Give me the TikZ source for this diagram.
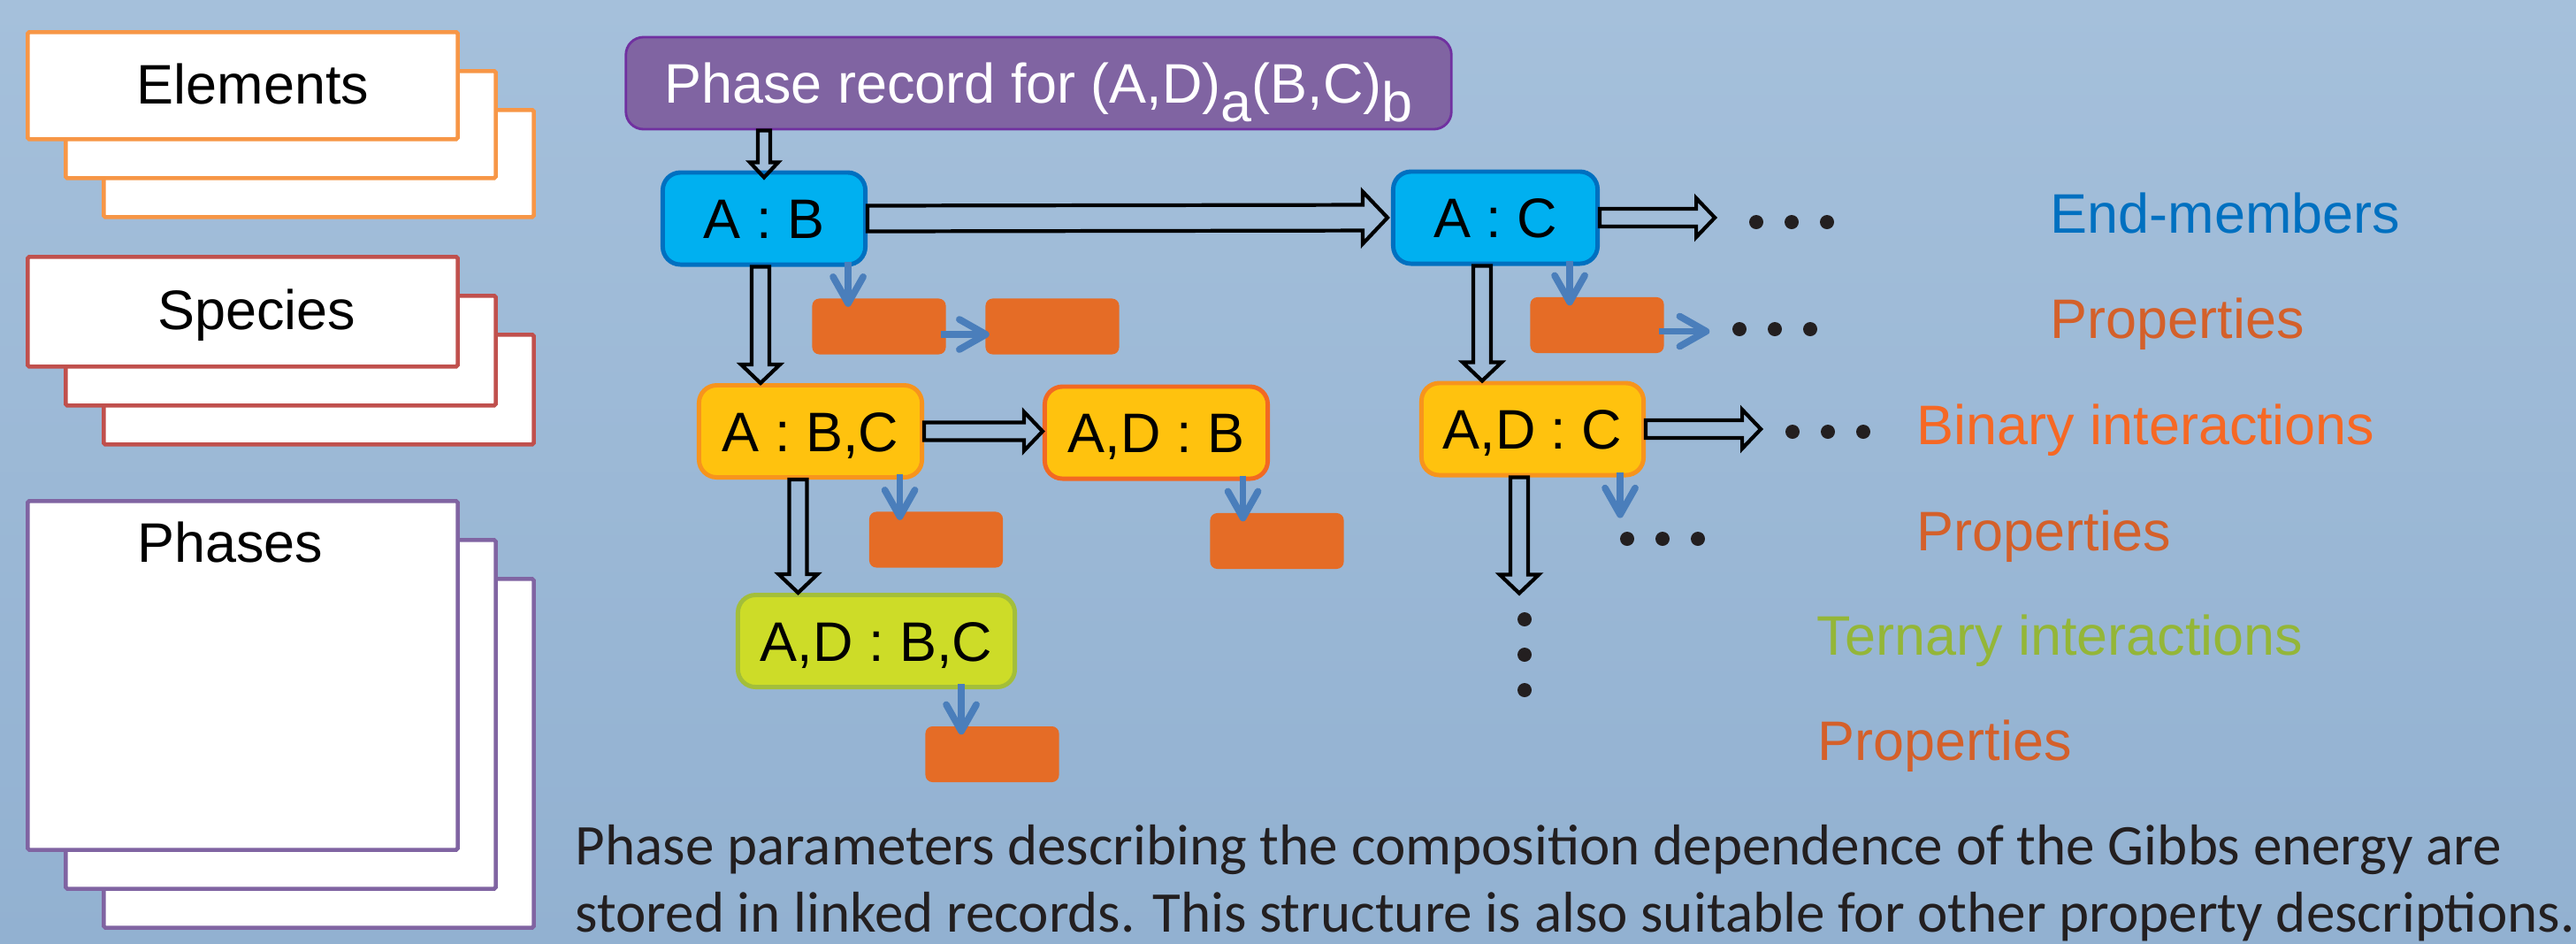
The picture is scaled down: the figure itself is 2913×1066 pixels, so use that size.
\documentclass[tikz,border=0pt]{standalone}
\usepackage{fontspec}
\setmainfont{Liberation Sans}
\newfontfamily\notefont{Carlito}
\usetikzlibrary{calc,arrows.meta}

\definecolor{bgtop}{RGB}{165,192,219}
\definecolor{bgbot}{RGB}{146,177,209}
\definecolor{elemcol}{RGB}{247,150,70}
\definecolor{speccol}{RGB}{192,80,77}
\definecolor{phasecol}{RGB}{128,100,162}
\definecolor{recfill}{RGB}{128,100,162}
\definecolor{recdraw}{RGB}{112,48,160}
\definecolor{endfill}{RGB}{0,176,240}
\definecolor{enddraw}{RGB}{0,112,192}
\definecolor{binfill}{RGB}{255,194,14}
\definecolor{bindraw}{RGB}{247,148,29}
\definecolor{bindrawb}{RGB}{242,105,34}
\definecolor{terfill}{RGB}{205,220,40}
\definecolor{terdraw}{RGB}{163,190,58}
\definecolor{propfill}{RGB}{229,108,38}
\definecolor{linkcol}{RGB}{74,126,187}
\definecolor{proptext}{RGB}{212,96,42}
\definecolor{bintext}{RGB}{246,104,36}
\definecolor{tertext}{RGB}{148,182,56}
\definecolor{dotcol}{RGB}{35,31,32}

\tikzset{
  card/.style={rectangle, fill=white, line width=1.3pt, rounded corners=0.5pt,
    anchor=north west, inner sep=0pt, minimum width=4.86cm},
  cardtext/.style={anchor=base, inner sep=0pt, font=\fontsize{17.9pt}{21pt}\selectfont},
  recbox/.style={rectangle, rounded corners=0.2cm, line width=1.4pt, inner sep=0pt,
    text height=12.8pt, text depth=0pt, minimum height=1.04cm,
    font=\fontsize{17.9pt}{21pt}\selectfont},
  phaserec/.style={recbox, fill=recfill, draw=recdraw, line width=0.8pt, text=white,
    minimum width=9.33cm},
  endmember/.style={recbox, fill=endfill, draw=enddraw},
  binary/.style={recbox, fill=binfill, draw=bindraw},
  ternary/.style={recbox, fill=terfill, draw=terdraw},
  propbox/.style={rectangle, fill=propfill, rounded corners=0.08cm,
    minimum width=1.51cm, minimum height=0.63cm, inner sep=0pt},
  blockarrow/.style n args={3}{draw=black, line width=1.2pt, line join=miter,
    to path={($(\tikztostart)!#1!90:(\tikztotarget)$)
      -- ($($(\tikztotarget)!#3!(\tikztostart)$)!#1!90:(\tikztotarget)$)
      -- ($($(\tikztotarget)!#3!(\tikztostart)$)!#2!90:(\tikztotarget)$)
      -- (\tikztotarget)
      -- ($($(\tikztotarget)!#3!(\tikztostart)$)!#2!-90:(\tikztotarget)$)
      -- ($($(\tikztotarget)!#3!(\tikztostart)$)!#1!-90:(\tikztotarget)$)
      -- ($(\tikztostart)!#1!-90:(\tikztotarget)$) -- cycle}},
  hollow/.style={blockarrow={0.1cm}{0.22cm}{0.21cm}},
  smallhollow/.style={blockarrow={0.07cm}{0.16cm}{0.17cm}},
  bighollow/.style={blockarrow={0.145cm}{0.295cm}{0.28cm}},
  linkarrow/.style={draw=linkcol, line width=2.2pt,
    -{Straight Barb[length=0.3cm, width=0.34cm, line cap=round, line join=round]},
    shorten >=-0.1cm, shorten <=-0.06cm},
  legendtext/.style={anchor=base west, inner sep=0pt, font=\fontsize{17.9pt}{21pt}\selectfont},
  notetext/.style={anchor=base west, inner sep=0pt, text=dotcol,
    font=\notefont\fontsize{18.5pt}{22pt}\selectfont}
}

\begin{document}
\begin{tikzpicture}[x=0.01cm, y=-0.01cm]
  % Background
  \useasboundingbox (0,0) rectangle (2913,1066);
  \shade[top color=bgtop, bottom color=bgbot] (0,0) rectangle (2913,1066);

  % Stacked cards on the left
  \foreach \nm/\clr/\ty/\hgt in {elements/elemcol/34/1.21cm, species/speccol/288/1.24cm, phases/phasecol/564/3.94cm}
    \foreach \k in {2,1,0}
      \node[card, draw=\clr, minimum height=\hgt] (\nm-\k) at (29+43*\k, \ty+44*\k) {};
  \node[cardtext] (elements-t) at (286,117) {Elements};
  \node[cardtext] (species-t) at (290,372) {Species};
  \node[cardtext] (phases-t) at (260,635) {Phases};

  % Phase record and parameter records
  \node[phaserec] (rec) at (1174.5,94) {Phase record for (A,D)\raisebox{-0.21cm}{a}(B,C)\raisebox{-0.21cm}{b}};
  \node[endmember, minimum width=2.29cm] (ab) at (864,247) {A : B};
  \node[endmember, minimum width=2.31cm] (ac) at (1691,246) {A : C};
  \node[binary, minimum width=2.52cm] (abc) at (916.5,487.5) {A : B,C};
  \node[binary, draw=bindrawb, minimum width=2.52cm] (adb) at (1307.5,489) {A,D : B};
  \node[binary, minimum width=2.51cm] (adc) at (1733,485) {A,D : C};
  \node[ternary, minimum width=3.13cm] (adbc) at (991,724.5) {A,D : B,C};

  % Property records
  \foreach \nm/\x/\y in {p1/994/369, p2/1190/369, p3/1058.5/610, p4/1444/611.5, p5/1122/852.5, p6/1806/367.5}
    \node[propbox] (\nm) at (\x,\y) {};

  % Links between parameter records
  \coordinate (ab-down) at ([xshift=-0.04cm]ab.south);
  \coordinate (abc-down) at ([xshift=-0.14cm]abc.south);
  \coordinate (ac-down) at ([xshift=-0.15cm]ac.south);
  \coordinate (adc-down) at ([xshift=-0.15cm]adc.south);
  \coordinate (adc-next) at ([yshift=-1.31cm]adc-down);
  \coordinate (ac-more) at ([xshift=1.30cm]ac.east);
  \coordinate (adc-more) at ([xshift=1.30cm]adc.east);
  \draw[smallhollow] (rec.south -| ab.north) to ([yshift=-0.08cm]ab.north);
  \draw[bighollow] (ab.east) to ([xshift=-0.04cm]ac.west);
  \draw[hollow] (ab-down) to (abc.north -| ab-down);
  \draw[hollow] (abc.east) to (adb.west |- abc.east);
  \draw[hollow] (abc-down) to (adbc.north -| abc-down);
  \draw[hollow] (ac.east) to (ac-more);
  \draw[hollow] (ac-down) to (adc.north -| ac-down);
  \draw[hollow] (adc.east) to (adc-more);
  \draw[hollow] (adc-down) to (adc-next);

  % Links to property records
  \foreach \src/\dx/\dst in {ab/0.95cm/p1, abc/1.01cm/p3, adb/0.98cm/p4, adbc/0.96cm/p5, ac/0.84cm/p6} {
    \coordinate (\src-prop) at ([xshift=\dx]\src.south);
    \draw[linkarrow] (\src-prop) -- (\dst.north -| \src-prop);
  }
  \draw[linkarrow, shorten >=-0.05cm] ([yshift=-0.09cm]p1.east) -- ([yshift=-0.09cm]p2.west);
  \coordinate (p6-more) at ([xshift=0.51cm, yshift=-0.07cm]p6.east);
  \draw[linkarrow, shorten >=0cm] ([yshift=-0.07cm]p6.east) -- (p6-more);
  \coordinate (adc-prop) at ([xshift=0.99cm]adc.south);
  \coordinate (adc-propmore) at ([yshift=-0.46cm]adc-prop);
  \draw[linkarrow, shorten >=0cm] (adc-prop) -- (adc-propmore);

  % Continuation dots
  \foreach \x/\y in {1986/251, 1967/372, 2027/488, 1840/609}
    \foreach \k in {0,1,2}
      \fill[dotcol] (\x+40*\k,\y) circle (0.08cm);
  \foreach \k in {0,1,2}
    \fill[dotcol] (1724,700+40*\k) circle (0.08cm);

  % Legend on the right
  \node[legendtext, text=enddraw] (lg-end) at (2318,263) {End-members};
  \node[legendtext, text=proptext] (lg-prop1) at (2318,382) {Properties};
  \node[legendtext, text=bintext] (lg-bin) at (2167,502) {Binary interactions};
  \node[legendtext, text=proptext] (lg-prop2) at (2167,622) {Properties};
  \node[legendtext, text=tertext] (lg-ter) at (2054,740) {Ternary interactions};
  \node[legendtext, text=proptext] (lg-prop3) at (2055,859) {Properties};

  % Note
  \node[notetext] (note-1) at (650,977) {Phase parameters describing the composition dependence of the Gibbs energy are};
  \node[notetext] (note-2) at (650,1053) {stored in linked records. This structure is also suitable for other property descriptions.};
\end{tikzpicture}
\end{document}
